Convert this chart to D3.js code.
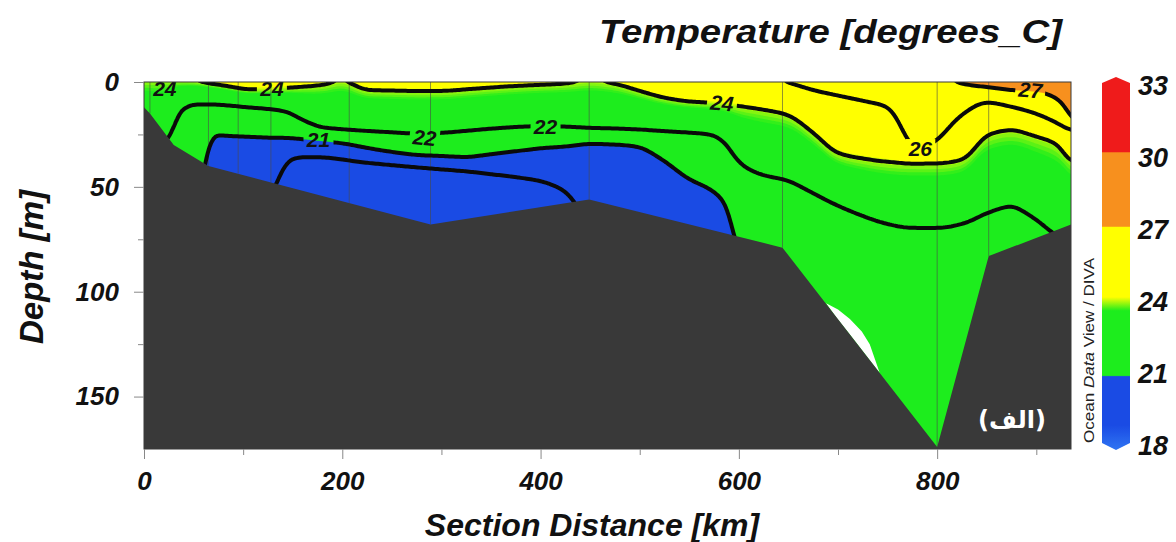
<!DOCTYPE html>
<html>
<head>
<meta charset="utf-8">
<script src="https://cdn.jsdelivr.net/npm/d3@7"></script>
<style>
  html, body { margin: 0; padding: 0; background: #fff; }
  svg { display: block; }
</style>
</head>
<body>
<div id="chart"></div>
<script>
// ODV style temperature section, redrawn with D3

// section columns (km) and what the picture shows at each of them
const colKm    = [0, 20, 32, 50, 68, 85, 105, 125, 145, 160, 180, 200, 225, 250, 275, 300, 325, 350, 375, 400, 425, 450, 475, 500, 525, 550, 575, 590, 600, 625, 650, 675, 700, 725, 750, 775, 800, 825, 850, 875, 900, 925, 935];
const surfaceT = [23.9, 23.9, 23.9, 23.95, 24.2, 24.3, 24.35, 24.35, 24.3, 24.25, 24.15, 23.95, 24.35, 24.4, 24.4, 24.4, 24.35, 24.3, 24.25, 24.2, 24.1, 23.95, 24.1, 24.5, 24.9, 25.2, 25.4, 25.5, 25.55, 25.7, 26.05, 26.3, 26.45, 26.6, 26.7, 26.8, 26.9, 27.05, 27.25, 27.4, 27.6, 27.9, 28.1];
// depth (m) of each isotherm in a column, null where it does not occur
const iso27 = [null, null, null, null, null, null, null, null, null, null, null, null, null, null, null, null, null, null, null, null, null, null, null, null, null, null, null, null, null, null, null, null, null, null, null, null, null, 0.8, 2.5, 3.9, 4.5, 9, 19];
const iso26 = [null, null, null, null, null, null, null, null, null, null, null, null, null, null, null, null, null, null, null, null, null, null, null, null, null, null, null, null, null, null, 0.5, 4, 6.5, 9, 12, 33, 29, 16, 9.7, 12, 15.5, 21, 23];
const iso24 = [null, null, null, null, 0.8, 2.2, 3.8, 3.6, 2.9, 2.3, 1.4, null, 3.8, 4.1, 4.3, 4.3, 3.5, 2.6, 1.8, 1.2, 0.7, null, 0.8, 4.2, 7.5, 9.3, 10, 10.8, 11.3, 13, 15.5, 24, 34, 36.5, 38, 38.5, 38.5, 37, 25, 22.5, 25.5, 30, 38];
const iso22 = [null, null, 14, 10, 10.3, 10.8, 11.7, 12.5, 14, 18, 21.8, 22.7, 23.4, 24, 24.6, 24.2, 23.2, 22.2, 21.4, 21, 21.3, 22, 22.3, 22.7, 23.3, 23.8, 25, 30, 37.5, 44, 46.5, 52, 58, 63, 67, 69, 69, 67, 62, 58.8, 65, null, null];
const iso21 = [null, null, null, null, 25, 25.5, 25.9, 26.3, 26.7, 27.3, 28.2, 29.2, 31.5, 33.5, 35, 35.5, 36, 34.5, 33, 31.5, 30.5, 29, 29.3, 30.5, 37, 46, 52, 60, null, null, null, null, null, null, null, null, null, null, null, null, null, null, null];
const iso20 = [null, null, null, null, null, null, null, null, 37, 35.5, 35.5, 36.5, 38, 39, 40, 41, 42, 43.5, 45, 47, 52, null, null, null, null, null, null, null, null, null, null, null, null, null, null, null, null, null, null, null, null, null, null];
const floorT = [23.0, 22.4, 21.7, 21.6, 20.5, 20.4, 20.4, 20.3, 19.5, 19.4, 19.4, 19.4, 19.4, 19.5, 19.5, 19.5, 19.5, 19.5, 19.6, 19.6, 19.8, 20.3, 20.3, 20.3, 20.4, 20.5, 20.6, 20.8, 21.2, 21.4, 21.5, 21.5, 21.4, 21.3, 21.3, 21.3, 21.3, 21.4, 21.6, 21.7, 21.8, 22.2, 22.4];

// sea floor
const bathyKm    = [0, 6, 30, 65, 289, 449, 644, 800, 852, 935];
const bathyDepth = [12, 15, 30, 40, 68, 56, 79, 174, 83, 68];
const stationKm  = [6, 65, 95, 128, 207, 289, 449, 644, 800, 852];
// white sliver without data on the steep slope
const gapKm    = [688, 700, 712, 724, 732, 742, 730, 712, 698];
const gapDepth = [105.5, 108.5, 113, 119, 125, 138.7, 131.4, 120.4, 112];

const lineLevels = [20, 21, 22, 24, 26, 27];
const labelText  = ['24', '24', '21', '22', '22', '24', '26', '27'];
const labelKm    = [21, 129, 176, 283, 405, 583, 783, 894];
const labelDepth = [2.9, 2.9, 27.6, 26.5, 21, 10, 31.5, 3.8];
const labelAngle = [0, 0, 0, 6, 0, 5, 0, 5];

const xTicks = [0, 200, 400, 600, 800];
const xMinor = [100, 300, 500, 700, 900];
const yTicks = [0, 50, 100, 150];
const yMinor = [25, 75, 125];
const barTicks = [18, 21, 24, 27, 30, 33];

const W = 1176, H = 542;
const FONT = '"Liberation Sans", Arial, Helvetica, sans-serif';

const x = d3.scaleLinear().domain([0, 935]).range([144, 1071]);
const y = d3.scaleLinear().domain([0, 175]).range([82, 449]);
const floorAt = d3.scaleLinear().domain(bathyKm).range(bathyDepth).clamp(true);

const blueLo = '#2f74f2', blueHi = '#1a4be4', green = '#1ded1d',
      yellow = '#ffff00', orange = '#f7901e', red = '#ef1b1b';

function tempColor(t) {
    if (t < 19) return d3.interpolateRgb(blueLo, blueHi)(Math.max(0, t - 18));
    if (t < 21) return blueHi;
    if (t < 23.6) return green;
    if (t < 24.15) return d3.interpolateRgb(green, yellow)((t - 23.6) / 0.55);
    if (t < 27) return yellow;
    if (t < 30) return orange;
    return red;
}

// knots (depth, temp) of one column
function profile(i) {
    const knots = [[0, surfaceT[i]]];
    [[iso27, 27], [iso26, 26], [iso24, 24], [iso22, 22], [iso21, 21], [iso20, 20]].forEach(([arr, lev]) => {
        if (arr[i] != null) knots.push([arr[i], lev]);
    });
    knots.push([floorAt(colKm[i]), floorT[i]]);
    return knots;
}

// depth of every level in a column; levels outside the column's range are
// carried on above the surface / below the floor with the end gradients
const knotLevels = [33, 27, 26, 24, 22, 21, 20, 16];
function levelDepths(i) {
    const k = profile(i);
    const top = k[0], nxt = k[1], last = k[k.length - 1], prev = k[k.length - 2];
    const gTop = Math.max(0.01, (top[1] - nxt[1]) / Math.max(0.1, nxt[0] - top[0]));
    const gBot = Math.max(0.01, (prev[1] - last[1]) / Math.max(0.1, last[0] - prev[0]));
    return knotLevels.map(L => {
        if (L >= top[1]) return top[0] - (L - top[1]) / gTop;
        if (L <= last[1]) return last[0] + (last[1] - L) / gBot;
        for (let j = 1; j < k.length; j++) {
            if (L >= k[j][1]) {
                const [z0, t0] = k[j - 1], [z1, t1] = k[j];
                return t0 === t1 ? z0 : z0 + (t0 - L) * (z1 - z0) / (t0 - t1);
            }
        }
        return last[0];
    });
}

// monotone cubic tangents across the columns
function tangents(v) {
    const n = v.length, m = new Float64Array(n), d = [];
    for (let k = 0; k < n - 1; k++) d.push((v[k + 1] - v[k]) / (colKm[k + 1] - colKm[k]));
    m[0] = d[0]; m[n - 1] = d[n - 2];
    for (let k = 1; k < n - 1; k++) {
        if (d[k - 1] * d[k] <= 0) { m[k] = 0; continue; }
        const h0 = colKm[k] - colKm[k - 1], h1 = colKm[k + 1] - colKm[k];
        const w1 = 2 * h1 + h0, w2 = h1 + 2 * h0;
        m[k] = (w1 + w2) / (w1 / d[k - 1] + w2 / d[k]);
    }
    return m;
}

const colDepths = colKm.map((_, i) => levelDepths(i));
const levDepth = knotLevels.map((_, l) => colDepths.map(r => r[l]));
const levTan = levDepth.map(tangents);

function depthsAt(km) {
    let c = d3.bisectRight(colKm, km) - 1;
    c = Math.max(0, Math.min(colKm.length - 2, c));
    const h = colKm[c + 1] - colKm[c], t = (km - colKm[c]) / h;
    const t2 = t * t, t3 = t2 * t;
    const out = levDepth.map((v, l) => (2 * t3 - 3 * t2 + 1) * v[c] + (t3 - 2 * t2 + t) * h * levTan[l][c]
        + (-2 * t3 + 3 * t2) * v[c + 1] + (t3 - t2) * h * levTan[l][c + 1]);
    for (let l = 1; l < out.length; l++) out[l] = Math.max(out[l], out[l - 1] + 0.01);
    return out;
}

// gridded field, a little wider than the plot so edges fall outside the clip
const dxKm = 2, dzM = 0.5, gx0 = -6, gz0 = -3;
const nx = Math.ceil((942 - gx0) / dxKm) + 1;
const nz = Math.ceil((179 - gz0) / dzM) + 1;
const values = new Float64Array(nx * nz);
for (let i = 0; i < nx; i++) {
    const km = Math.max(0, Math.min(935, gx0 + i * dxKm));
    const zs = depthsAt(km);
    let k = 1;
    for (let j = 0; j < nz; j++) {
        const z = Math.max(0, gz0 + j * dzM);
        while (k < zs.length - 1 && z > zs[k]) k++;
        const z0 = zs[k - 1], z1 = zs[k], t0 = knotLevels[k - 1], t1 = knotLevels[k];
        values[j * nx + i] = Math.max(16, t0 + (t1 - t0) * (z - z0) / (z1 - z0));
    }
}
if (d3.blur2) d3.blur2({data: values, width: nx, height: nz}, 2, 1);

const proj = d3.geoTransform({
    point(px, py) {
        this.stream.point(x(gx0 + (px - 0.5) * dxKm), y(gz0 + (py - 0.5) * dzM));
    }
});
const path = d3.geoPath(proj);

const svg = d3.select('#chart').append('svg')
    .attr('width', W).attr('height', H)
    .style('font-family', FONT);

const defs = svg.append('defs');
defs.append('clipPath').attr('id', 'plotclip')
    .append('rect').attr('x', x(0)).attr('y', y(0))
    .attr('width', x(935) - x(0)).attr('height', y(175) - y(0));

const mask = defs.append('mask').attr('id', 'lblmask')
    .attr('maskUnits', 'userSpaceOnUse')
    .attr('x', 0).attr('y', 0).attr('width', W).attr('height', H);
mask.append('rect').attr('width', W).attr('height', H).attr('fill', 'white');
labelText.forEach((s, i) => {
    mask.append('rect')
        .attr('x', -15).attr('y', -9).attr('width', 30).attr('height', 18)
        .attr('fill', 'black')
        .attr('transform', `translate(${x(labelKm[i])},${y(labelDepth[i])}) rotate(${labelAngle[i]})`);
});

const plot = svg.append('g').attr('clip-path', 'url(#plotclip)');

// colour bands
const fillSteps = [18.5, 19, 21, 23.6, 23.7, 23.8, 23.9, 24, 24.1, 27, 30];
plot.append('rect')
    .attr('x', x(0)).attr('y', y(0))
    .attr('width', x(935) - x(0)).attr('height', y(175) - y(0))
    .attr('fill', tempColor(18));
const bands = d3.contours().size([nx, nz]).thresholds(fillSteps)(values);
plot.append('g').selectAll('path')
    .data(bands)
    .join('path')
    .attr('d', path)
    .attr('fill', (d, i) => {
        const hi = i < fillSteps.length - 1 ? fillSteps[i + 1] : 33;
        return tempColor((d.value + hi) / 2);
    })
    .attr('stroke', 'none');

// stations
plot.append('g').selectAll('line')
    .data(stationKm)
    .join('line')
    .attr('x1', d => x(d)).attr('x2', d => x(d))
    .attr('y1', y(0)).attr('y2', d => y(floorAt(d)))
    .attr('stroke', '#4a4a4a').attr('stroke-width', 1).attr('opacity', 0.6);

// isolines
const isolines = d3.contours().size([nx, nz]).thresholds(lineLevels)(values);
plot.append('g').attr('mask', 'url(#lblmask)')
    .selectAll('path')
    .data(isolines)
    .join('path')
    .attr('d', path)
    .attr('fill', 'none')
    .attr('stroke', '#0a0a0a')
    .attr('stroke-width', 4)
    .attr('stroke-linejoin', 'round');

// no-data sliver and sea floor
plot.append('path')
    .attr('d', d3.line()(gapKm.map((k, i) => [x(k), y(gapDepth[i])])) + 'Z')
    .attr('fill', '#ffffff');

const floorPts = [[0, 185]].concat(bathyKm.map((k, i) => [k, bathyDepth[i]]), [[935, 185]]);
plot.append('path')
    .attr('d', d3.line()(floorPts.map(p => [x(p[0]), y(p[1])])) + 'Z')
    .attr('fill', '#393939');

// isoline labels
plot.append('g').selectAll('text')
    .data(labelText)
    .join('text')
    .attr('transform', (d, i) => `translate(${x(labelKm[i])},${y(labelDepth[i])}) rotate(${labelAngle[i]})`)
    .attr('text-anchor', 'middle')
    .attr('dy', '0.36em')
    .attr('font-size', '21px')
    .attr('font-weight', 'bold')
    .attr('font-style', 'italic')
    .attr('fill', '#111')
    .text(d => d);

plot.append('text')
    .attr('x', 1012).attr('y', 428)
    .attr('text-anchor', 'middle')
    .attr('font-family', '"DejaVu Sans", sans-serif')
    .attr('font-size', '24px')
    .attr('font-weight', 'bold')
    .attr('fill', '#ffffff')
    .text('(الف)');

// frame
svg.append('rect')
    .attr('x', x(0)).attr('y', y(0))
    .attr('width', x(935) - x(0)).attr('height', y(175) - y(0))
    .attr('fill', 'none').attr('stroke', '#3a3a3a').attr('stroke-width', 1);

// axes
function styleAxis(g) {
    g.select('.domain').remove();
    g.selectAll('.tick line').attr('stroke', '#888');
    g.selectAll('.tick text')
        .attr('font-family', FONT)
        .attr('font-size', '26px')
        .attr('font-weight', 'bold')
        .attr('font-style', 'italic')
        .attr('fill', '#111');
}

svg.append('g').attr('transform', `translate(0,${y(175)})`)
    .call(d3.axisBottom(x).tickValues(xTicks).tickSize(10).tickPadding(13).tickFormat(d3.format('d')))
    .call(styleAxis);
svg.append('g').attr('transform', `translate(0,${y(175)})`)
    .call(d3.axisBottom(x).tickValues(xMinor).tickSize(6).tickFormat(''))
    .call(styleAxis);
svg.append('g').attr('transform', `translate(${x(0)},0)`)
    .call(d3.axisLeft(y).tickValues(yTicks).tickSize(10).tickPadding(15).tickFormat(d3.format('d')))
    .call(styleAxis);
svg.append('g').attr('transform', `translate(${x(0)},0)`)
    .call(d3.axisLeft(y).tickValues(yMinor).tickSize(6).tickFormat(''))
    .call(styleAxis);

svg.append('text')
    .attr('x', 592).attr('y', 536)
    .attr('text-anchor', 'middle')
    .attr('font-size', '32px').attr('font-weight', 'bold').attr('font-style', 'italic')
    .attr('fill', '#111')
    .text('Section Distance [km]');

svg.append('text')
    .attr('transform', 'translate(43,267) rotate(-90)')
    .attr('text-anchor', 'middle')
    .attr('font-size', '33px').attr('font-weight', 'bold').attr('font-style', 'italic')
    .attr('fill', '#111')
    .text('Depth [m]');

svg.append('text')
    .attr('x', 599).attr('y', 43)
    .attr('textLength', 463).attr('lengthAdjust', 'spacingAndGlyphs')
    .attr('font-size', '34px').attr('font-weight', 'bold').attr('font-style', 'italic')
    .attr('fill', '#111')
    .text('Temperature [degrees_C]');

// colour bar
const cy = d3.scaleLinear().domain([18, 33]).range([443, 83]);
const barX = 1102, barW = 28;
const grad = defs.append('linearGradient').attr('id', 'bargrad')
    .attr('x1', 0).attr('y1', 1).attr('x2', 0).attr('y2', 0);
d3.range(18, 33.001, 0.05).forEach(v => {
    grad.append('stop').attr('offset', (v - 18) / 15).attr('stop-color', tempColor(v));
});
const bar = svg.append('g');
bar.append('path')
    .attr('d', `M${barX},${cy(33)} L${barX + barW / 2},${cy(33) - 6} L${barX + barW},${cy(33)}
                L${barX + barW},${cy(18)} L${barX + barW / 2},${cy(18) + 7} L${barX},${cy(18)} Z`)
    .attr('fill', 'url(#bargrad)');
bar.selectAll('text')
    .data(barTicks)
    .join('text')
    .attr('x', 1138).attr('y', d => cy(d) + 12)
    .attr('font-size', '27px').attr('font-weight', 'bold').attr('font-style', 'italic')
    .attr('fill', '#111')
    .text(d => d);

const odv = svg.append('text')
    .attr('transform', 'translate(1094,443) rotate(-90)')
    .attr('textLength', 185).attr('lengthAdjust', 'spacingAndGlyphs')
    .attr('font-size', '15px')
    .attr('fill', '#222');
odv.append('tspan').text('Ocean ');
odv.append('tspan').attr('font-style', 'italic').text('Data');
odv.append('tspan').text(' View / DIVA');
</script>
</body>
</html>
